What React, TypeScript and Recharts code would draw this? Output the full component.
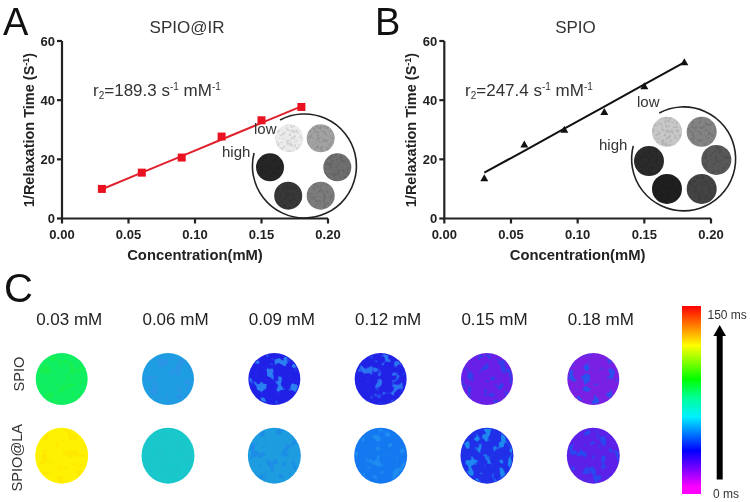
import {
  Bar,
  BarChart,
  Line,
  LineChart,
  ReferenceDot,
  Scatter,
  ScatterChart,
  XAxis,
  YAxis,
} from 'recharts'

const CONCENTRATIONS = [0.03, 0.06, 0.09, 0.12, 0.15, 0.18]
const X_TICKS = [0, 0.05, 0.1, 0.15, 0.2]
const Y_TICKS = [0, 20, 40, 60]

const SPIO_IR_RATE = [10, 15.5, 20.6, 27.7, 33.2, 37.7]
const SPIO_IR_FIT = [9.9, 15.5, 21.1, 26.7, 32.3, 37.9]
const SPIO_RATE = [13.6, 25, 30, 36, 44.7, 52.8]
const SPIO_FIT = [15.5, 22.9, 30.4, 37.8, 45.3, 52.8]

// phantom wells, in the axis units of each plot
const WELLS_A_X = [0.1709, 0.1945, 0.207, 0.1945, 0.1701, 0.1564]
const WELLS_A_Y = [27.1, 27.1, 17.3, 7.7, 7.7, 17.3]
const WELLS_A_GRAY = ['#ececec', '#a2a2a2', '#6f6f6f', '#7c7c7c', '#383838', '#262626']
const WELLS_B_X = [0.167, 0.193, 0.204, 0.193, 0.167, 0.1535]
const WELLS_B_Y = [29.3, 29.3, 19.8, 10, 10, 19.4]
const WELLS_B_GRAY = ['#c8c8c8', '#848484', '#585858', '#444444', '#1f1f1f', '#2b2b2b']

const ROW_LABELS = ['SPIO', 'SPIO@LA']
const MAP_FILL = [
  ['#10ee62', '#1f9de2', '#2020e6', '#2222e6', '#6a1fe6', '#7a20e2'],
  ['#fff200', '#18c8ca', '#1e9ce0', '#1478f0', '#2030e8', '#5c20e8'],
]
const MAP_BLOTCH = [
  ['#18f050', '#2a94e6', '#2a80f2', '#2a74f2', '#3040ea', '#2a50f0'],
  ['#ffe800', '#1cc4cc', '#1c8ce6', '#1e8cf0', '#1c88f0', '#2848f0'],
]

const COLOR_STOPS: [number, string][] = [
  [0, '#ff0000'],
  [0.12, '#ff9000'],
  [0.21, '#ffff00'],
  [0.39, '#00ff00'],
  [0.49, '#00ff99'],
  [0.59, '#00f0ff'],
  [0.77, '#0000ff'],
  [0.87, '#8000ff'],
  [0.965, '#ff00ff'],
  [1, '#ff00ff'],
]
const COLOR_SCALE_MAX = [150]

const FONT = '"Liberation Sans", Arial, sans-serif'
const INK = '#222222'

const mapData = ROW_LABELS.flatMap((_, row) =>
  CONCENTRATIONS.map((x, col) => ({
    x,
    y: row,
    fill: MAP_FILL[row][col],
    blotch: MAP_BLOTCH[row][col],
  }))
)

function Square(props: any) {
  return <rect x={props.cx - 4} y={props.cy - 4} width={8} height={8} fill="#ea1220" />
}

function Triangle(props: any) {
  const { cx, cy } = props
  return <path d={`M${cx} ${cy - 4}L${cx + 4} ${cy + 3}L${cx - 4} ${cy + 3}Z`} fill="#111" />
}

function Well(props: any) {
  const { cx, cy, r, fill } = props
  return (
    <g>
      <circle cx={cx} cy={cy} r={r} fill={fill} />
      <circle cx={cx} cy={cy} r={r} fill="#000" opacity={0.09} filter="url(#mottle)" />
    </g>
  )
}

function Ring(props: any) {
  const { cx, cy, r } = props
  const start = [cx - 24, cy - 47]
  const end = [cx - 50, cy - 14]
  return (
    <path
      d={`M${start[0]} ${start[1]}A${r} ${r} 0 1 1 ${end[0]} ${end[1]}`}
      fill="none"
      stroke="#222"
      strokeWidth={1.6}
    />
  )
}

function YTitle(x: number, y: number) {
  return (
    <text
      transform={`rotate(-90 ${x} ${y})`}
      x={x}
      y={y}
      textAnchor="middle"
      fontFamily={FONT}
      fontWeight={700}
      fontSize={14.5}
      fill={INK}
    >
      1/Relaxation Time (S
      <tspan fontSize={9} dy={-5}>-1</tspan>
      <tspan dy={5}>)</tspan>
    </text>
  )
}

function RatePlot(props: {
  rate: number[]
  fit: number[]
  color: string
  dot: any
  wellsX: number[]
  wellsY: number[]
  wellsGray: string[]
  wellR: number
  ringX: number
  ringY: number
  axisWidth: number
  right: number
  titleX: number
}) {
  const data = CONCENTRATIONS.map((x, i) => ({ x, rate: props.rate[i], fit: props.fit[i] }))
  const tickStyle = { fontFamily: FONT, fontWeight: 700, fontSize: 13, fill: INK }
  return (
    <LineChart
      width={375}
      height={265}
      data={data}
      margin={{ top: 41, right: props.right, left: 10, bottom: 0 }}
    >
      <XAxis
        type="number"
        dataKey="x"
        domain={[0, 0.2]}
        ticks={X_TICKS}
        tickFormatter={(v: number) => v.toFixed(2)}
        height={46.5}
        interval={0}
        tick={tickStyle}
        tickSize={5}
        tickMargin={6}
        stroke={INK}
        strokeWidth={2.2}
        label={{
          value: 'Concentration(mM)',
          position: 'insideBottom',
          offset: 5,
          style: { fontFamily: FONT, fontWeight: 700, fontSize: 14.8, fill: INK },
        }}
      />
      <YAxis
        type="number"
        domain={[0, 60]}
        ticks={Y_TICKS}
        width={props.axisWidth}
        interval={0}
        tick={tickStyle}
        tickSize={5}
        tickMargin={2}
        stroke={INK}
        strokeWidth={2.2}
        label={() => YTitle(props.titleX, 130)}
      />
      <ReferenceDot
        x={props.ringX}
        y={props.ringY}
        r={52}
        ifOverflow="visible"
        shape={Ring}
      />
      {props.wellsX.map((x, i) => (
        <ReferenceDot
          key={i}
          x={x}
          y={props.wellsY[i]}
          r={props.wellR}
          fill={props.wellsGray[i]}
          ifOverflow="visible"
          shape={Well}
        />
      ))}
      <Line
        dataKey="fit"
        stroke={props.color}
        strokeWidth={2}
        dot={false}
        isAnimationActive={false}
      />
      <Line
        dataKey="rate"
        stroke="none"
        dot={props.dot}
        activeDot={false}
        isAnimationActive={false}
      />
    </LineChart>
  )
}

function MapDisc(props: any) {
  const { cx, cy, payload } = props
  const ry = payload.y === 0 ? 26 : 28
  const rx = payload.y === 0 ? 26 : 26.5
  return (
    <g>
      <ellipse cx={cx} cy={cy} rx={rx} ry={ry} fill={payload.fill} />
      <ellipse cx={cx} cy={cy} rx={rx - 1} ry={ry - 1} fill={payload.blotch} filter="url(#blotch)" />
    </g>
  )
}

function MapHeader(props: any) {
  return (
    <text x={props.x + 7.5} y={24.5} textAnchor="middle" fontFamily={FONT} fontSize={17} fill={INK}>
      {props.payload.value} mM
    </text>
  )
}

function MapRowLabel(props: any) {
  const row = props.payload.value
  const x = row === 0 ? 24 : 22
  const y = props.y + (row === 0 ? -5 : 2)
  return (
    <text
      transform={`rotate(-90 ${x} ${y})`}
      x={x}
      y={y}
      textAnchor="middle"
      fontFamily={FONT}
      fontSize={14.6}
      fill="#333"
    >
      {ROW_LABELS[row]}
    </text>
  )
}

function T2Maps() {
  return (
    <ScatterChart width={750} height={202} margin={{ top: 40, right: 156.7, left: 0, bottom: 46.3 }}>
      <XAxis
        type="number"
        dataKey="x"
        orientation="top"
        domain={[0.03, 0.18]}
        ticks={CONCENTRATIONS}
        interval={0}
        height={39}
        axisLine={false}
        tickLine={false}
        tick={MapHeader}
      />
      <YAxis
        type="number"
        dataKey="y"
        domain={[0, 1]}
        reversed
        ticks={[0, 1]}
        interval={0}
        width={61.7}
        axisLine={false}
        tickLine={false}
        tick={MapRowLabel}
      />
      <Scatter data={mapData} shape={MapDisc} isAnimationActive={false} />
    </ScatterChart>
  )
}

function ColorScale() {
  return (
    <BarChart
      width={19}
      height={188}
      data={COLOR_SCALE_MAX.map((v) => ({ v }))}
      margin={{ top: 0, right: 0, left: 0, bottom: 0 }}
      barCategoryGap={0}
    >
      <defs>
        <linearGradient id="t2scale" x1="0" y1="0" x2="0" y2="1">
          {COLOR_STOPS.map(([o, c]) => (
            <stop key={o} offset={o} stopColor={c} />
          ))}
        </linearGradient>
      </defs>
      <XAxis hide />
      <YAxis hide domain={[0, 150]} />
      <Bar dataKey="v" fill="url(#t2scale)" isAnimationActive={false} />
    </BarChart>
  )
}

function Annotation(props: any) {
  return <text fontFamily={FONT} fill="#333" {...props} />
}

function RateText({ x, y, value }: { x: number; y: number; value: string }) {
  return (
    <Annotation x={x} y={y} fontSize={17}>
      r<tspan fontSize={10} dy={3}>2</tspan>
      <tspan dy={-3}>={value} s</tspan>
      <tspan fontSize={10} dy={-6}>-1</tspan>
      <tspan dy={6}> mM</tspan>
      <tspan fontSize={10} dy={-6}>-1</tspan>
    </Annotation>
  )
}

export default function App() {
  const place = (left: number, top: number) => ({ position: 'absolute' as const, left, top })
  return (
    <div
      style={{
        ...place(0, 0),
        width: 750,
        height: 502,
        overflow: 'hidden',
        background: '#fff',
        filter: 'blur(0.45px)',
      }}
    >
      <svg width={0} height={0} style={place(0, 0)}>
        <defs>
          <filter id="blotch" colorInterpolationFilters="sRGB">
            <feTurbulence type="fractalNoise" baseFrequency="0.12" numOctaves={2} seed={4} />
            <feColorMatrix values="0 0 0 0 0  0 0 0 0 0  0 0 0 0 0  9 0 0 0 -5" result="mask" />
            <feGaussianBlur in="mask" stdDeviation="0.7" result="soft" />
            <feComposite in="SourceGraphic" in2="soft" operator="in" />
          </filter>
          <filter id="mottle" colorInterpolationFilters="sRGB">
            <feTurbulence type="fractalNoise" baseFrequency="0.3" numOctaves={2} seed={9} />
            <feColorMatrix values="0 0 0 0 0  0 0 0 0 0  0 0 0 0 0  9 0 0 0 -4.5" result="mask" />
            <feGaussianBlur in="mask" stdDeviation="0.5" result="soft" />
            <feComposite in="SourceGraphic" in2="soft" operator="in" />
          </filter>
        </defs>
      </svg>

      <div style={place(0, 0)}>
        <RatePlot
          rate={SPIO_IR_RATE}
          fit={SPIO_IR_FIT}
          color="#e0202c"
          dot={Square}
          wellsX={WELLS_A_X}
          wellsY={WELLS_A_Y}
          wellsGray={WELLS_A_GRAY}
          wellR={14}
          ringX={0.182}
          ringY={17.4}
          axisWidth={52}
          right={47}
          titleX={34}
        />
      </div>
      <div style={place(375, 0)}>
        <RatePlot
          rate={SPIO_RATE}
          fit={SPIO_FIT}
          color="#111"
          dot={Triangle}
          wellsX={WELLS_B_X}
          wellsY={WELLS_B_Y}
          wellsGray={WELLS_B_GRAY}
          wellR={15}
          ringX={0.1792}
          ringY={19.8}
          axisWidth={59.3}
          right={39}
          titleX={41}
        />
      </div>
      <div style={place(0, 300)}>
        <T2Maps />
      </div>
      <div style={place(682.3, 305.5)}>
        <ColorScale />
      </div>

      <svg width={750} height={502} style={{ ...place(0, 0), pointerEvents: 'none' }}>
        <Annotation x={3} y={35} fontSize={38} fill="#111">A</Annotation>
        <Annotation x={375} y={34.5} fontSize={38} fill="#111">B</Annotation>
        <Annotation x={4} y={302} fontSize={40} fill="#111">C</Annotation>
        <Annotation x={187} y={33} fontSize={17} textAnchor="middle">SPIO@IR</Annotation>
        <Annotation x={575.5} y={33} fontSize={17} textAnchor="middle">SPIO</Annotation>
        <RateText x={93} y={96} value="189.3" />
        <RateText x={465} y={96} value="247.4" />
        <Annotation x={254} y={134} fontSize={15}>low</Annotation>
        <Annotation x={222} y={157} fontSize={15}>high</Annotation>
        <Annotation x={637} y={107} fontSize={15}>low</Annotation>
        <Annotation x={599} y={150} fontSize={15}>high</Annotation>
        <Annotation x={707.5} y={318.5} fontSize={12}>150 ms</Annotation>
        <Annotation x={713} y={498} fontSize={12}>0 ms</Annotation>
        <path d="M719.7 325L726 336L722.7 336L722.7 479.5L716.7 479.5L716.7 336L713.4 336Z" fill="#000" />
      </svg>
    </div>
  )
}
